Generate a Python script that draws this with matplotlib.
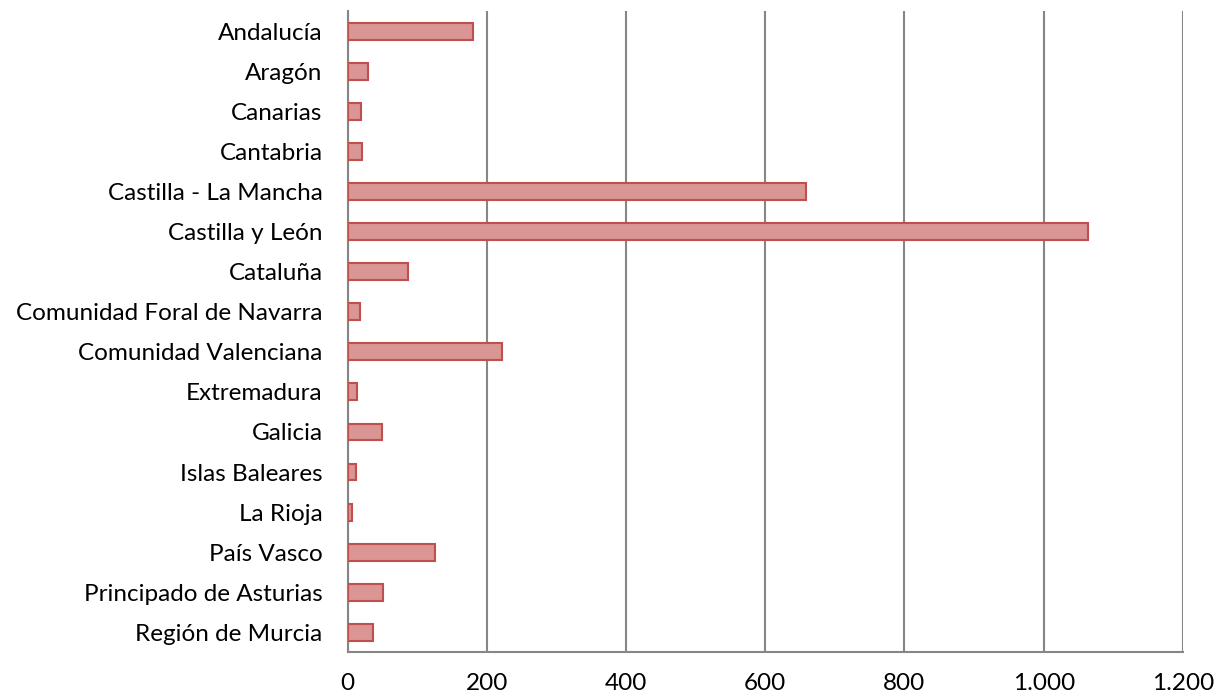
import matplotlib
matplotlib.use("Agg")
import matplotlib.pyplot as plt
from matplotlib.ticker import FuncFormatter

regions = ["Andalucía", "Aragón", "Canarias", "Cantabria", "Castilla - La Mancha",
           "Castilla y León", "Cataluña", "Comunidad Foral de Navarra",
           "Comunidad Valenciana", "Extremadura", "Galicia", "Islas Baleares",
           "La Rioja", "País Vasco", "Principado de Asturias", "Región de Murcia"]
values = [180, 29, 19, 21, 658, 1064, 87, 18, 222, 13, 50, 12, 7, 126, 51, 37]
xticks = [0, 200, 400, 600, 800, 1000, 1200]

plt.rcParams['font.family'] = ['Lato', 'DejaVu Sans']

fig = plt.figure(figsize=(12.16, 6.97), dpi=100)
ax = fig.add_axes([0.2858, 0.064, 0.687, 0.92])

ypos = list(range(len(regions)))
ax.barh(ypos, values, height=0.42, color="#D99694", edgecolor="#C0504D",
        linewidth=1.5, zorder=3)
ax.set_yticks(ypos)
ax.set_yticklabels(regions, fontsize=17.5, color="#000000")
ax.set_ylim(len(regions) - 0.5, -0.5)
ax.set_xlim(0, 1200)
ax.set_xticks(xticks)
ax.xaxis.set_major_formatter(FuncFormatter(lambda v, p: f"{int(v):,}".replace(",", ".")))
ax.tick_params(axis='x', labelsize=17.5, length=0, pad=15)
ax.tick_params(axis='y', length=0, pad=18)
ax.grid(axis='x', color="#868686", linewidth=1.5, zorder=0)
for s in ["top", "right"]:
    ax.spines[s].set_visible(False)
for s in ["left", "bottom"]:
    ax.spines[s].set_color("#868686")
    ax.spines[s].set_linewidth(1.5)

fig.savefig("out.png", dpi=100)
